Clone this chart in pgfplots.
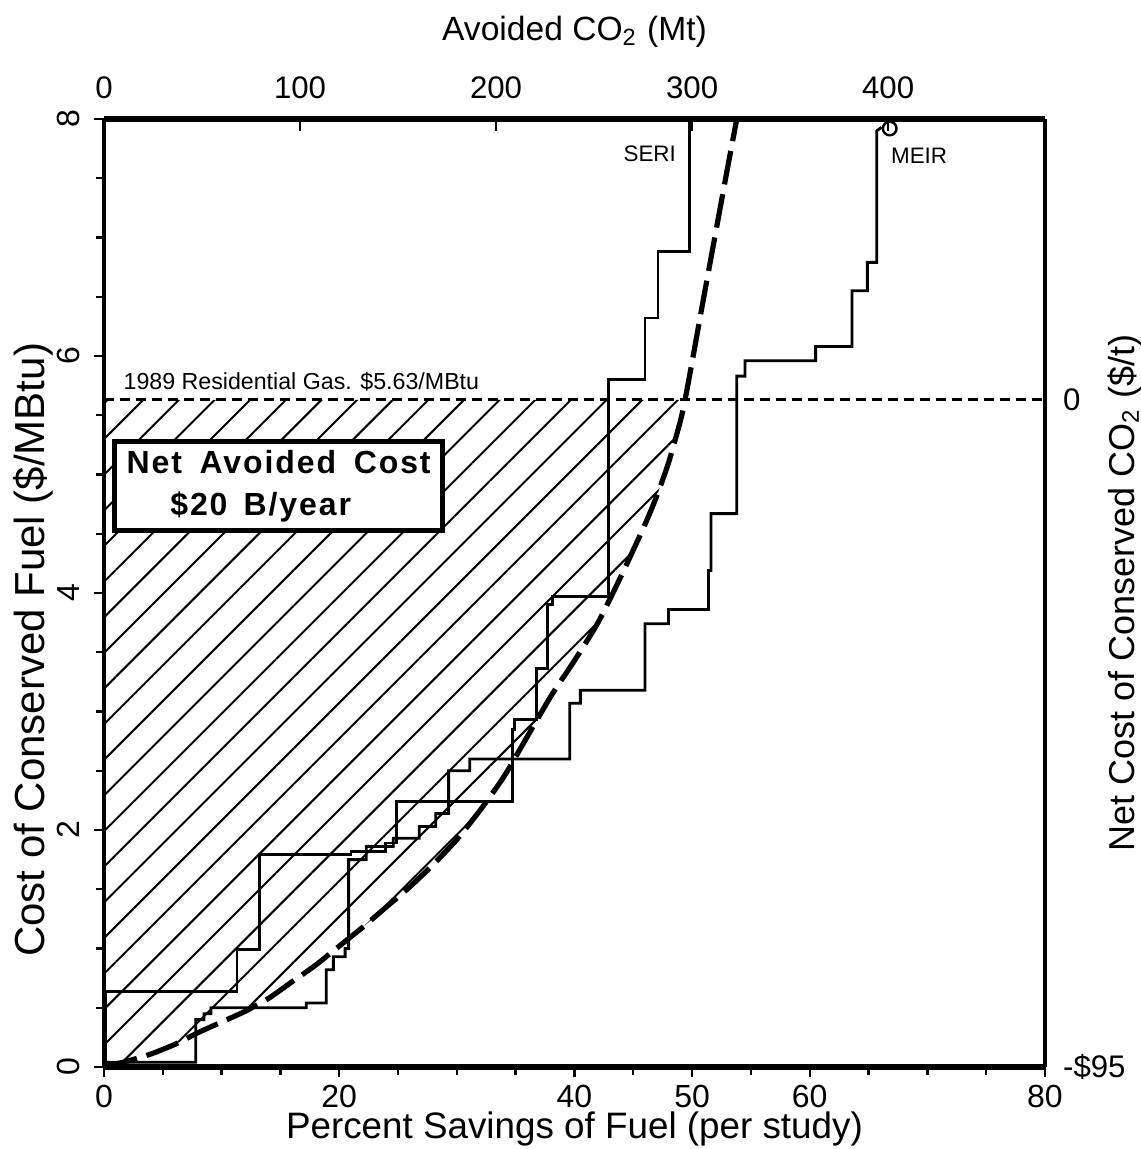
\documentclass[border=0pt]{standalone}
\usepackage{fontspec}
\setmainfont{Liberation Sans}
\usepackage{pgfplots}
\pgfplotsset{compat=1.18}
\usetikzlibrary{patterns.meta}

\begin{document}
\begin{tikzpicture}
\useasboundingbox (-26pt,-20.5pt) rectangle (259pt,266.75pt);

% top axis (avoided CO2) and right axis (net cost of CO2)
\begin{axis}[
    scale only axis, width=235.25pt, height=237pt,
    xmin=0, xmax=480, ymin=0, ymax=8,
    axis x line*=top, axis y line*=right,
    axis line style={line width=0.8pt},
    xtick={0,100,200,300,400},
    ytick={0,5.63}, yticklabels={-\$95,0},
    tick align=inside, major tick length=3pt,
    tick style={line width=0.6pt, black},
    ytick style={draw=none},
    /pgf/number format/assume math mode=true,
    xticklabel style={font=\fontsize{7.8}{9}\selectfont, yshift=1.5pt},
    yticklabel style={font=\fontsize{7.8}{9}\selectfont, xshift=1pt},
    xlabel={Avoided CO\textsubscript{2} (Mt)},
    ylabel={Net Cost of Conserved CO\textsubscript{2} (\$/t)},
    xlabel style={at={(axis description cs:0.5,1.092)}, anchor=center,
                  font=\fontsize{8.4}{10}\selectfont},
    ylabel style={at={(axis description cs:1.085,0.5)}, anchor=center,
                  font=\fontsize{9}{11}\selectfont},
]
\end{axis}

% main axis
\begin{axis}[
    scale only axis, width=235.25pt, height=237pt,
    xmin=0, xmax=80, ymin=0, ymax=8,
    axis x line*=bottom, axis y line*=left,
    axis line style={line width=0.8pt},
    xtick={0,20,40,50,60,80},
    minor xtick={5,10,15,25,30,35,45,55,65,70,75},
    ytick={0,2,4,6,8},
    minor ytick={0.5,1,1.5,2.5,3,3.5,4.5,5,5.5,6.5,7,7.5},
    tick align=outside,
    major tick length=2.6pt, minor tick length=2pt,
    tick style={line width=0.6pt, black},
    /pgf/number format/assume math mode=true,
    xticklabel style={font=\fontsize{8}{9}\selectfont, yshift=1.6pt},
    yticklabel style={font=\fontsize{8}{9}\selectfont, rotate=90, anchor=south},
    xlabel={Percent Savings of Fuel (per study)},
    ylabel={Cost of Conserved Fuel (\$/MBtu)},
    xlabel style={at={(axis description cs:0.5,-0.065)}, anchor=center,
                  font=\fontsize{9.2}{11}\selectfont},
    ylabel style={at={(axis description cs:-0.0755,0.44)}, anchor=center,
                  font=\fontsize{10.5}{12}\selectfont},
    clip=false,
]
% hatched net avoided cost area
\addplot[draw=none, pattern={Lines[angle=45,distance=6.3pt,line width=0.5pt]}]
coordinates {
    (0,5.63) (0,0) (2,0.05) (4,0.11) (6,0.19) (8,0.29) (10,0.38) (12,0.47)
    (14,0.58) (16,0.72) (18,0.86) (20,1.02) (22,1.18) (24,1.35) (26,1.52)
    (28,1.71) (30,1.92) (32,2.17) (34,2.45) (36,2.79) (38,3.13) (40,3.43)
    (42,3.75) (44,4.15) (46,4.58) (47,4.82) (48,5.10) (49,5.45) (49.4,5.63)
    (0,5.63)
};

% 1989 residential gas price
\addplot[line width=0.8pt, dash pattern=on 2.6pt off 1.4pt]
coordinates {(0,5.63) (80,5.63)};

% SERI supply curve
\addplot[line width=0.7pt]
coordinates {
    (0.1,0) (0.1,0.64) (11.3,0.64) (11.3,0.99) (13.2,0.99) (13.2,1.79)
    (21.0,1.79) (21.0,1.82) (23.9,1.82) (23.9,1.89) (24.9,1.89) (24.9,2.24)
    (34.7,2.24) (34.7,2.85) (34.9,2.85) (34.9,2.93) (36.8,2.93) (36.8,3.36)
    (37.7,3.36) (37.7,3.90) (38.1,3.90) (38.1,3.97) (42.9,3.97) (42.9,5.80)
    (46.0,5.80) (46.0,6.32) (47.1,6.32) (47.1,6.88) (49.8,6.88) (49.8,8.0)
};

% MEIR supply curve
\addplot[line width=0.7pt]
coordinates {
    (0,0.04) (7.8,0.04) (7.8,0.40) (8.5,0.40) (8.5,0.45) (9.1,0.45)
    (9.1,0.50) (17.2,0.50) (17.2,0.54) (18.9,0.54) (18.9,0.82) (19.5,0.82)
    (19.5,0.93) (20.5,0.93) (20.5,1.00) (20.8,1.00) (20.8,1.75) (22.3,1.75)
    (22.3,1.86) (24.6,1.86) (24.6,1.93) (26.8,1.93) (26.8,2.03) (28.2,2.03)
    (28.2,2.14) (29.3,2.14) (29.3,2.50) (31.1,2.50) (31.1,2.60) (39.6,2.60)
    (39.6,3.07) (40.5,3.07) (40.5,3.18) (46.0,3.18) (46.0,3.74) (48.0,3.74)
    (48.0,3.86) (51.4,3.86) (51.4,4.19) (51.6,4.19) (51.6,4.67) (53.8,4.67)
    (53.8,5.83) (54.5,5.83) (54.5,5.96) (60.5,5.96) (60.5,6.08) (63.6,6.08)
    (63.6,6.55) (64.9,6.55) (64.9,6.79) (65.7,6.79) (65.7,7.90) (66.1,7.93)
};
\addplot[only marks, mark=o, mark size=1.7pt, mark options={line width=0.6pt}]
coordinates {(66.8,7.92)};

% fitted cost curve
\addplot[line width=1.3pt, dash pattern=on 8.5pt off 2.5pt, smooth, tension=0.4]
coordinates {
    (0,0) (2,0.05) (4,0.11) (6,0.19) (8,0.29) (10,0.38) (12,0.47) (14,0.58)
    (16,0.72) (18,0.86) (20,1.02) (22,1.18) (24,1.35) (26,1.52) (28,1.71)
    (30,1.92) (32,2.17) (34,2.45) (36,2.79) (38,3.13) (40,3.43) (42,3.75)
    (44,4.15) (46,4.58) (47,4.82) (48,5.10) (49,5.45) (49.4,5.63) (50,5.95)
    (51,6.50) (52,7.04) (53,7.58) (53.8,8.0)
};

% heavier top and bottom frame lines
\draw[line width=1.3pt] (rel axis cs:0,0) -- (rel axis cs:1,0);
\draw[line width=1.3pt] (rel axis cs:0,1) -- (rel axis cs:1,1);

\node[anchor=base west, inner sep=0, font=\fontsize{5.8}{7}\selectfont]
    at (axis cs:1.6,5.72) {1989 Residential Gas. \$5.63/MBtu};
\node[draw, line width=1.3pt, fill=white, minimum width=82pt,
      minimum height=22.25pt, inner sep=0, align=center,
      font=\bfseries\fontsize{8}{10.5}\selectfont\addfontfeature{LetterSpace=6}]
    at (axis cs:14.85,4.905)
    {Net\hspace{0.55em}Avoided\hspace{0.55em}Cost\\\$20\hspace{0.5em}B/year\hspace*{9pt}};
\node[font=\fontsize{5.6}{6}\selectfont] at (axis cs:46.4,7.71) {SERI};
\node[font=\fontsize{5.6}{6}\selectfont] at (axis cs:69.3,7.69) {MEIR};
\end{axis}
\end{tikzpicture}
\end{document}
